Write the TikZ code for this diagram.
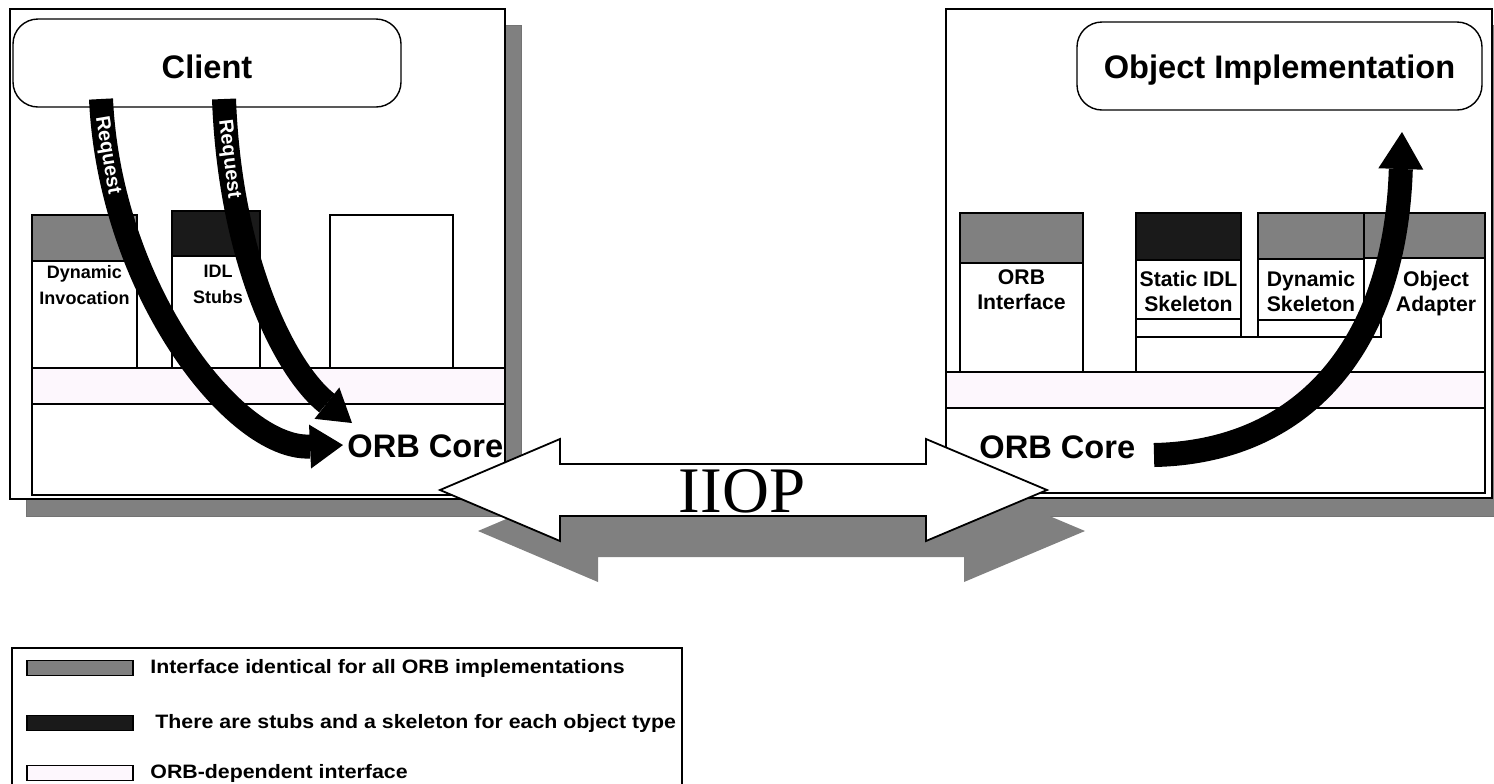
\documentclass[tikz,border=0pt]{standalone}
\usepackage{fontspec}
\setmainfont{Liberation Sans}
\newfontfamily\iiopfont{Liberation Serif}
\newfontfamily\legendfont[FakeStretch=1.1]{Liberation Sans}
\usetikzlibrary{arrows.meta}

\definecolor{shadowgray}{HTML}{808080}
\definecolor{hdrgray}{HTML}{808080}
\definecolor{hdrblack}{HTML}{1A1A1A}
\definecolor{bandpink}{HTML}{FDF7FD}

\tikzset{
  panelframe/.style={draw, line width=1pt, fill=white},
  dropshade/.style={fill=shadowgray, draw=black!55, line width=0.4pt},
  stackbox/.style={draw, line width=0.9pt},
  capbox/.style={draw, line width=0.7pt, fill=white, rounded corners=12.5pt,
    minimum height=44pt, inner sep=0pt, text height=15.5pt,
    font=\bfseries\fontsize{16.3}{18}\selectfont},
  modlabel/.style={anchor=north, align=center, inner sep=0pt},
  smalllabel/.style={modlabel, font=\bfseries\fontsize{9}{13}\selectfont},
  biglabel/.style={modlabel, font=\bfseries\fontsize{10.6}{12.5}\selectfont},
  corelabel/.style={anchor=base west, inner sep=0pt, font=\bfseries\fontsize{16.3}{18}\selectfont},
  callarrow/.style={line width=12pt},
  reqlabel/.style={sloped, allow upside down, inner sep=0pt, text=white,
    font=\bfseries\fontsize{10}{10}\selectfont},
  legendtext/.style={anchor=west, inner sep=0pt, font=\legendfont\bfseries\fontsize{9.7}{10}\selectfont},
}

\begin{document}
\begin{tikzpicture}[x=0.5pt, y=-0.5pt]
  \useasboundingbox (0,0) rectangle (1494,783);

  % ---------- client side ----------
  \path[dropshade] (26,25) rectangle (521,516);
  \draw[panelframe] (10,9) rectangle (505,499);
  \draw[stackbox, fill=white] (32,404) rectangle (505,495);
  \draw[stackbox, fill=bandpink] (32,368) rectangle (505,404);
  % module boxes: left/right/top/header bottom/header colour
  \foreach \l/\r/\t/\h/\c in {32/137/215/261/hdrgray, 172/260/211/256/hdrblack} {
    \draw[stackbox, fill=white] (\l,\t) rectangle (\r,368);
    \draw[stackbox, fill=\c] (\l,\t) rectangle (\r,\h);
  }
  \draw[stackbox, fill=white] (330,215) rectangle (453,368);
  \node[smalllabel] (dynlbl) at (84.5,265) {Dynamic\\Invocation};
  \node[smalllabel] (stublbl) at (218,265) {IDL\\Stubs};

  \node[capbox, minimum width=194pt] (client) at (207,63) {Client};
  \coordinate (req1from) at (101,99);
  \coordinate (req2from) at (224,99);
  \coordinate (req1to) at (343,445);
  \coordinate (req2to) at (352,423);
  \draw[callarrow, -{Triangle[length=16.5pt, width=22pt, line width=0pt]}]
    (req1from) .. controls (110,290) and (235,450) .. (req1to)
    node[reqlabel, pos=0.1] (req1lbl) {Request};
  \draw[callarrow, -{Triangle[length=16pt, width=20pt, line width=0pt]}]
    (req2from) .. controls (230,260) and (285,370) .. (req2to)
    node[reqlabel, pos=0.13] (req2lbl) {Request};
  \node[corelabel] (clientcore) at (347,457) {ORB Core};

  % ---------- server side ----------
  \path[dropshade] (962,25) rectangle (1508,516);
  \draw[panelframe] (946,9) rectangle (1492,498);
  \draw[stackbox, fill=white] (946,408) rectangle (1485,493);
  \draw[stackbox, fill=bandpink] (946,372) rectangle (1485,408);
  % object adapter and the common box below the skeletons
  \draw[stackbox] (1381,337) -- (1136,337) -- (1136,372);
  \draw[stackbox] (1485,213) -- (1485,372);
  \foreach \l/\r/\b/\h/\c in {960/1083/372/263/hdrgray, 1136/1241/337/260/hdrblack, 1258/1364/320/259/hdrgray} {
    \draw[stackbox, fill=white] (\l,213) rectangle (\r,\b);
    \draw[stackbox, fill=\c] (\l,213) rectangle (\r,\h);
  }
  \draw[stackbox] (1136,319) -- (1241,319);
  \draw[stackbox, fill=white] (1258,320) rectangle (1381,337);
  \draw[stackbox, fill=hdrgray] (1364,213) rectangle (1485,258);
  \node[biglabel] (orbiflbl) at (1021.5,269.5) {ORB\\Interface};
  \node[biglabel] (statlbl) at (1188.5,270.5) {Static IDL\\Skeleton};
  \node[biglabel] (dynsklbl) at (1311,270.5) {Dynamic\\Skeleton};
  \node[biglabel] (oalbl) at (1436,270.5) {Object\\Adapter};

  \node[capbox, minimum width=202.5pt] (objimpl) at (1279.5,66) {Object Implementation};
  \coordinate (upfrom) at (1154,455);
  \coordinate (upto) at (1402,132);
  \draw[callarrow, -{Triangle[length=18.5pt, width=22.5pt, line width=0pt]}]
    (upfrom) .. controls (1300,452) and (1395,350) .. (upto);
  \node[corelabel] (servercore) at (979,458) {ORB Core};

  % ---------- IIOP double arrow with its drop shadow ----------
  \foreach \dx/\dy/\fc/\dc in {38/41/shadowgray/none, 0/0/white/black}
    \filldraw[fill=\fc, draw=\dc, line width=0.9pt, shift={(\dx,\dy)}]
      (440,490) -- (560,439) -- (560,464) -- (926,464) -- (926,439) -- (1047,490)
      -- (926,541) -- (926,516) -- (560,516) -- (560,541) -- cycle;
  \node[font=\iiopfont\fontsize{32.5}{34}\selectfont, inner sep=0pt] (iiop) at (742,491) {IIOP};

  % ---------- legend ----------
  \draw[line width=0.9pt] (12,790) -- (12,648) -- (682,648) -- (682,790);
  \foreach \y/\c/\tx/\txt [count=\i] in {668/hdrgray/150/{Interface identical for all ORB implementations},
      723/hdrblack/155/{There are stubs and a skeleton for each object type},
      773/bandpink/150/{ORB-dependent interface}} {
    \filldraw[fill=\c, draw=black, line width=0.7pt] (27,\y-7.5) rectangle (133,\y+7.5);
    \node[legendtext] (legend\i) at (\tx,\y) {\txt};
  }
\end{tikzpicture}
\end{document}
